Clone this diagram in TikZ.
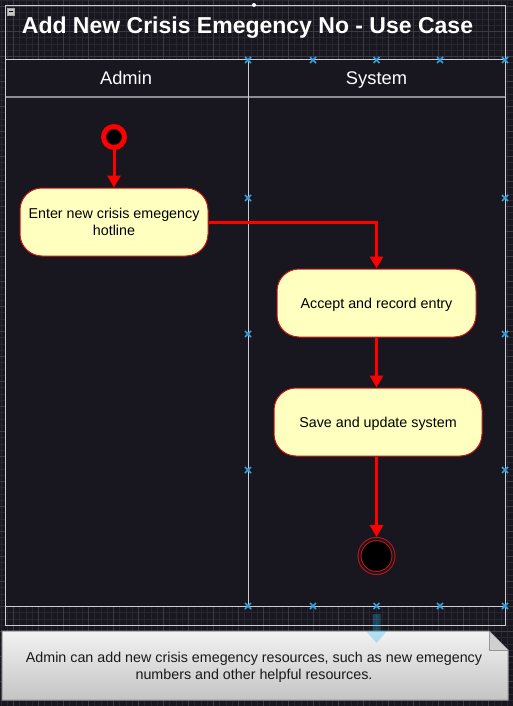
\documentclass[tikz,border=0pt]{standalone}
\usepackage{fontspec}
\setmainfont{Liberation Sans}
\usetikzlibrary{arrows.meta}

\definecolor{canvas}{RGB}{24,22,31}
\definecolor{gridminor}{RGB}{40,38,47}
\definecolor{gridmajor}{RGB}{60,58,67}
\definecolor{laneedge}{RGB}{205,205,210}
\definecolor{headline}{RGB}{140,140,145}
\definecolor{actfill}{RGB}{255,255,192}
\definecolor{actedge}{RGB}{200,20,20}
\definecolor{flowred}{RGB}{255,0,0}
\definecolor{markblue}{RGB}{52,160,220}
\definecolor{dragblue}{RGB}{41,182,242}
\definecolor{notetop}{RGB}{242,242,242}
\definecolor{notebot}{RGB}{196,196,196}
\definecolor{noteedge}{RGB}{150,150,150}

\tikzset{
    activity/.style={draw=actedge, fill=actfill, line width=1pt, rounded corners=22pt,
        minimum height=68pt, inner sep=0pt, align=center,
        font=\fontsize{14.3}{17}\selectfont},
    oneline/.style={text height=13pt, text depth=1.8pt},
    flow/.style={draw=flowred, line width=3pt, -{Triangle[length=12pt,width=13pt]}},
    marker/.style={draw=markblue, line width=1.6pt},
    lanehead/.style={text=white, font=\fontsize{18.3}{22}\selectfont, text height=17pt, text depth=2pt},
}

\begin{document}
\begin{tikzpicture}[x=1pt, y=-1pt]
                \useasboundingbox (0,0) rectangle (513,706);
                % canvas and grid
                \fill[canvas] (0,0) rectangle (513,706);
                \foreach \gx in {0,...,82} {
                    \draw[gridminor, line width=0.6pt] ({1+\gx*6.25},0) -- ++(0,706);
                }
                \foreach \gy in {0,...,113} {
                    \draw[gridminor, line width=0.6pt] (0,{0.25+\gy*6.25}) -- ++(513,0);
                }
                \foreach \gx in {-1,...,20} {
                    \draw[gridmajor, line width=0.8pt] ({13.5+\gx*25},0) -- ++(0,706);
                }
                \foreach \gy in {0,...,28} {
                    \draw[gridmajor, line width=0.8pt] (0,{6.5+\gy*25}) -- ++(513,0);
                }

                % title container
                \draw[laneedge, line width=1pt] (5,6) rectangle (505,625);
                \draw[gray!70, fill=gray!45] (7,8) rectangle (14,15);
                \draw[black, line width=0.8pt] (8.5,11.5) -- (12.5,11.5);
                \fill[white] (254,5) circle[radius=2pt];
                \node[text=white, font=\bfseries\fontsize{23}{27}\selectfont] (title) at (247.5,28) {Add New Crisis Emegency No - Use Case};

                % swimlanes
                \fill[canvas] (5,60) rectangle (505,606);
                \draw[headline, line width=2pt] (5,97) -- (505,97);
                \draw[laneedge, line width=1pt] (5,60) rectangle (505,606);
                \draw[laneedge, line width=1pt] (248,60) -- (248,606);
                \node[lanehead] (admin) at (126,77) {Admin};
                \node[lanehead] (system) at (376.5,77) {System};
                \foreach \mx in {248,313,376.5,440,505} {
                    \draw[marker] (\mx-3,57) -- (\mx+3,63) (\mx-3,63) -- (\mx+3,57);
                    \draw[marker] (\mx-3,603) -- (\mx+3,609) (\mx-3,609) -- (\mx+3,603);
                }
                \foreach \my in {198,334,470} {
                    \draw[marker] (245,\my-3) -- (251,\my+3) (245,\my+3) -- (251,\my-3);
                    \draw[marker] (502,\my-3) -- (508,\my+3) (502,\my+3) -- (508,\my-3);
                }

                % activity flow
                \node[circle, draw=flowred, fill=black, line width=5pt, minimum size=21pt, inner sep=0pt] (start) at (114,137) {};
                \node[activity, minimum width=188pt] (enter) at (114,222) {Enter new crisis emegency\\hotline};
                \node[activity, oneline, minimum width=199pt] (accept) at (376.5,303) {Accept and record entry};
                \node[activity, oneline, minimum width=208pt] (save) at (378,422) {Save and update system};
                \node[circle, draw=actedge, line width=1pt, double=canvas, double distance=2pt, fill=black, minimum size=34pt, inner sep=0pt] (stop) at (376.5,556) {};
                \draw[flow] (start) -- (enter);
                \draw[flow] (enter.east) -| (accept.north);
                \draw[flow] (accept.south) -- (accept.south |- save.north);
                \draw[flow, shorten >=1.5pt] (save.south -| stop.north) -- (stop.north);

                % note
                \shadedraw[top color=notetop, bottom color=notebot, draw=noteedge, line width=1pt] (2,631) -- (489,631) -- (508,650) -- (508,700) -- (2,700) -- cycle;
                \draw[noteedge, fill=notebot!80!white, line width=1pt] (489,631) -- (489,650) -- (508,650);
                \node[text=black!90, align=center, font=\fontsize{14.3}{16.5}\selectfont] (note) at (254,667.5) {Admin can add new crisis emegency resources, such as new emegency\\numbers and other helpful resources.};
                \fill[dragblue, opacity=0.3] (372.5,614) -- (380.5,614) -- (380.5,631) -- (387,631) -- (376.5,643) -- (366,631) -- (372.5,631) -- cycle;
            \end{tikzpicture}
\end{document}
